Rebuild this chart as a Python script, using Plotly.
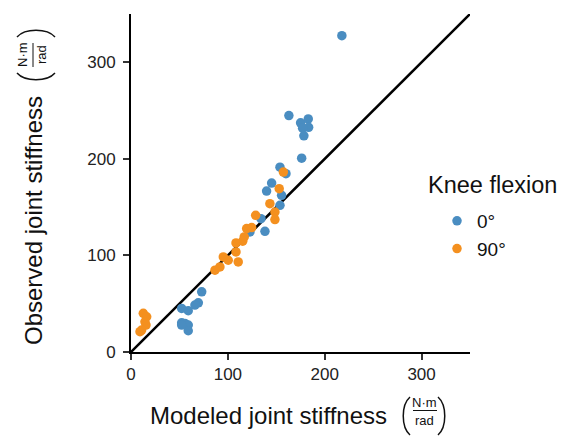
import plotly.graph_objects as go

# ---- data ----
blue_x = [217.7, 163.0, 175.1, 183.0, 183.4, 177.2, 178.5, 176.2, 153.8, 160.0,
          145.2, 140.0, 155.5, 153.8, 134.2, 138.3, 122.8,
          73.0, 69.5, 66.0, 52.3, 59.1, 52.3, 55.7, 59.1, 59.1, 52.3]
blue_y = [327.5, 244.8, 237.3, 241.4, 232.7, 231.7, 223.9, 200.7, 191.4, 184.6,
          174.9, 166.6, 162.2, 151.9, 138.1, 125.0, 124.3,
          62.3, 50.9, 48.6, 45.1, 42.7, 30.3, 29.6, 27.9, 22.0, 27.9]
orange_x = [153.0, 157.3, 143.4, 148.6, 148.6, 128.7, 119.4, 124.6, 116.9, 115.3,
            108.4, 108.4, 110.7, 95.3, 100.4, 91.8, 86.7,
            12.7, 16.2, 14.4, 15.5, 11.0, 9.3]
orange_y = [169.1, 186.3, 153.6, 144.9, 137.1, 141.5, 127.8, 128.8, 119.1, 114.7,
            112.9, 103.6, 93.3, 98.5, 95.0, 88.1, 84.7,
            40.0, 36.5, 31.3, 27.9, 22.7, 21.0]
identity = [0, 350]
ticks = [0, 100, 200, 300]
series_names = ["0°", "90°"]

BLUE = "#4a8dc1"
ORANGE = "#f4901f"
FONT = "Liberation Sans, Arial, sans-serif"

W, H = 565, 436
L, R, T, B = 131, 470, 14, 352


def px(x):
    return (x - L) / (R - L)


def py(y):
    return (B - y) / (B - T)


fig = go.Figure()
fig.add_trace(go.Scatter(x=identity, y=identity, mode="lines",
                         line=dict(color="black", width=2.5),
                         showlegend=False, hoverinfo="skip"))
fig.add_trace(go.Scatter(x=blue_x, y=blue_y, mode="markers", name=series_names[0],
                         marker=dict(color=BLUE, size=9.5, line=dict(width=0))))
fig.add_trace(go.Scatter(x=orange_x, y=orange_y, mode="markers", name=series_names[1],
                         marker=dict(color=ORANGE, size=9.5, line=dict(width=0))))

axis_common = dict(range=[0, 350], tickvals=ticks, showgrid=False, zeroline=False,
                   showline=True, linecolor="black", linewidth=2,
                   ticks="outside", ticklen=6, tickwidth=2, tickcolor="#333",
                   tickfont=dict(family=FONT, size=17, color="#222"))
fig.update_xaxes(**axis_common)
fig.update_yaxes(**axis_common, ticklabelstandoff=4)

annotations = []
shapes = []


def note(text, x, y, size, angle=0, xanchor="center"):
    annotations.append(dict(text=text, x=px(x), y=py(y), xref="paper", yref="paper",
                            xanchor=xanchor, yanchor="middle", showarrow=False,
                            textangle=angle,
                            font=dict(family=FONT, size=size, color="#111")))


def path(pts):
    (a, b), (c, d), (e, f), (g, h) = pts
    return (f"M {px(a)},{py(b)} C {px(c)},{py(d)} {px(e)},{py(f)} {px(g)},{py(h)}")


def stroke(p, w=1.5):
    shapes.append(dict(type="path", xref="paper", yref="paper", path=p,
                       line=dict(color="#111", width=w)))


# x title
note("Modeled joint stiffness", 268, 415, 24)
note("N·m", 424.5, 402, 13)
note("rad", 424.5, 420, 13)
shapes.append(dict(type="line", xref="paper", yref="paper", x0=px(413), x1=px(437),
                   y0=py(410.5), y1=py(410.5), line=dict(color="#111", width=1)))
stroke(path([(410, 397), (401, 405), (401, 427), (410, 435)]))
stroke(path([(438, 397), (447, 405), (447, 427), (438, 435)]))

# y title
note("Observed joint stiffness", 33, 220, 24, angle=-90)
note("N·m", 23, 55, 13, angle=-90)
note("rad", 42, 55, 13, angle=-90)
shapes.append(dict(type="line", xref="paper", yref="paper", x0=px(33), x1=px(33),
                   y0=py(43), y1=py(67), line=dict(color="#111", width=1)))
stroke(path([(17, 73), (25, 82), (47, 82), (55, 73)]))
stroke(path([(17, 37), (25, 28), (47, 28), (55, 37)]))

# legend title
note("Knee flexion", 426, 185, 23.5, xanchor="left")

fig.update_layout(
    width=W, height=H,
    margin=dict(l=L, r=W - R, t=T, b=H - B),
    paper_bgcolor="white", plot_bgcolor="white",
    font=dict(family=FONT, color="#111"),
    legend=dict(x=px(437), y=py(202), xanchor="left", yanchor="top",
                font=dict(family=FONT, size=19, color="#111"),
                bgcolor="rgba(0,0,0,0)", itemwidth=30),
    annotations=annotations, shapes=shapes,
)

fig.write_html("out.html", config={"displayModeBar": False},
               post_script="document.body.style.margin='0px';"
                           "document.body.style.overflow='hidden';")
